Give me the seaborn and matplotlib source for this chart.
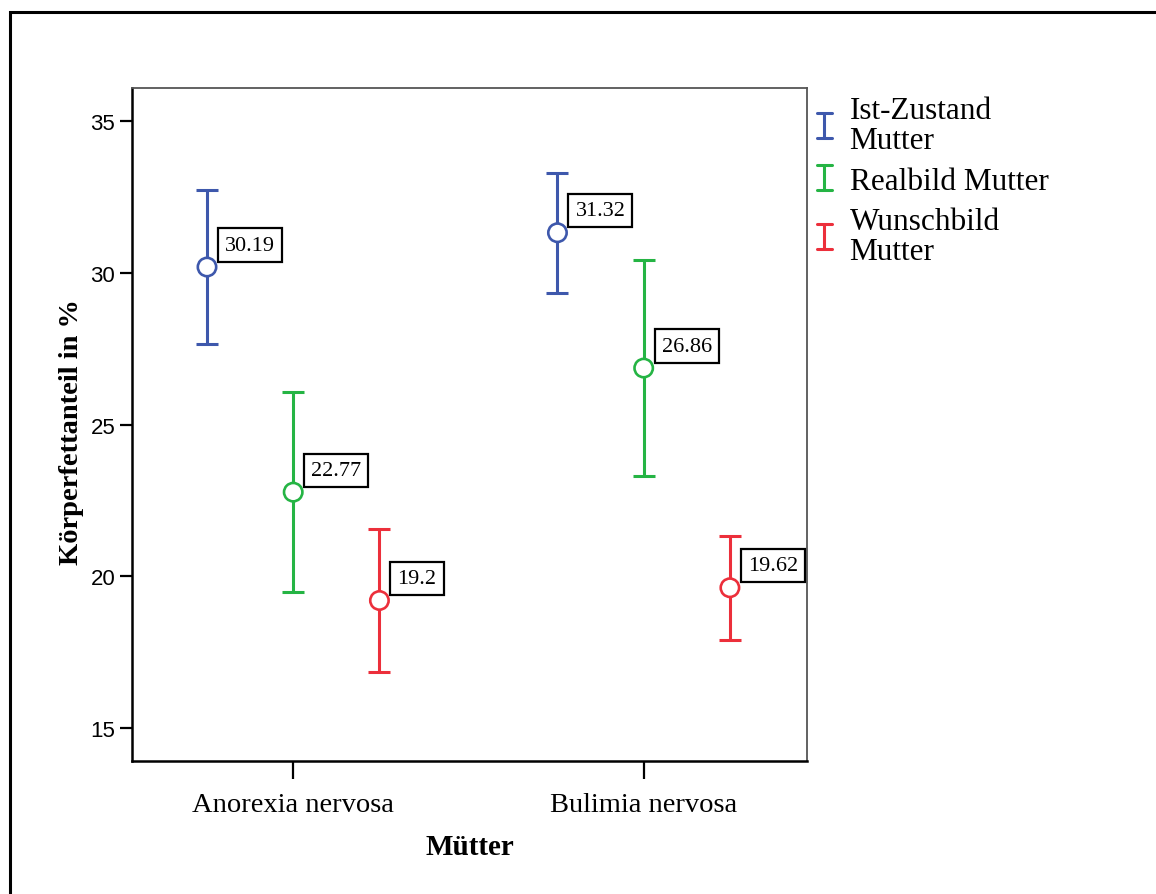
import matplotlib
matplotlib.use("Agg")
import matplotlib.pyplot as plt
from matplotlib.legend_handler import HandlerBase
from matplotlib.lines import Line2D
from matplotlib.patches import Rectangle
import pandas as pd
import seaborn as sns

# Group labels along the x axis and series shown in the legend
groups = ["Anorexia nervosa", "Bulimia nervosa"]
series = ["Ist-Zustand\nMutter", "Realbild Mutter", "Wunschbild\nMutter"]

# Means per series (one value per group)
ist_mean = [30.19, 31.32]
real_mean = [22.77, 26.86]
wunsch_mean = [19.2, 19.62]

# Error bar half-widths per series
ist_err = [2.55, 1.98]
real_err = [3.29, 3.55]
wunsch_err = [2.37, 1.72]

yticks = [15, 20, 25, 30, 35]

colors = ["#3e58ac", "#25b444", "#ec2f3b"]

sns.set_style("ticks")
plt.rcParams.update({
    "text.color": "black",
    "axes.labelcolor": "black",
    "xtick.color": "black",
    "ytick.color": "black",
})

rows = []
for s, means, errs in zip(series, [ist_mean, real_mean, wunsch_mean],
                          [ist_err, real_err, wunsch_err]):
    for g, m, e in zip(groups, means, errs):
        rows.append({"group": g, "series": s, "mean": m, "err": e})
df = pd.DataFrame(rows)

offsets = {s: o for s, o in zip(series, [-0.246, 0.0, 0.246])}
df["xpos"] = df["group"].map({g: i for i, g in enumerate(groups)}) + df["series"].map(offsets)

fig = plt.figure(figsize=(11.56, 8.95), dpi=100)
ax = fig.add_axes([132 / 1156, 1 - 762 / 895, (807 - 132) / 1156, (762 - 89) / 895])

# Error bars
for s, c in zip(series, colors):
    sub = df[df["series"] == s]
    ax.errorbar(sub["xpos"], sub["mean"], yerr=sub["err"], fmt="none",
                ecolor=c, elinewidth=2.2, capsize=8, capthick=2.2, zorder=2)

# Mean markers (open circles)
sns.scatterplot(data=df, x="xpos", y="mean", hue="series", palette=colors,
                marker="o", s=175, linewidth=1.9, legend=False, ax=ax, zorder=3)
pts = ax.collections[-1]
pts.set_edgecolors(pts.get_facecolors())
pts.set_facecolors("white")

# Value boxes
for _, r in df.iterrows():
    ax.annotate(f"{r['mean']:g}", xy=(r["xpos"], r["mean"]), xytext=(18, 22),
                textcoords="offset pixels", ha="left", va="center",
                fontsize=16, family="Liberation Serif",
                bbox=dict(boxstyle="square,pad=0.32", fc="white", ec="black", lw=1.6),
                zorder=4)

ax.set_xlim(-0.46, 1.466)
ax.set_ylim(13.91, 36.09)
ax.set_xticks(range(len(groups)))
ax.set_xticklabels(groups, family="Liberation Serif", fontsize=20.5)
ax.set_yticks(yticks)
ax.set_yticklabels([str(t) for t in yticks], family="Liberation Sans", fontsize=16)
ax.tick_params(axis="y", length=9, width=1.6, pad=3)
ax.tick_params(axis="x", length=13, width=1.6, pad=9)

ax.set_xlabel("Mütter", family="Liberation Serif", fontweight="bold", fontsize=21, labelpad=12)
ax.set_ylabel("Körperfettanteil in %", family="Liberation Serif", fontweight="bold",
              fontsize=20.5)
ax.yaxis.set_label_coords(-0.0716, 0.49)

for side in ["left", "bottom"]:
    ax.spines[side].set_color("black")
    ax.spines[side].set_linewidth(1.8)
for side in ["top", "right"]:
    ax.spines[side].set_color("#555555")
    ax.spines[side].set_linewidth(1.3)
    ax.spines[side].set_visible(True)


class ErrorIconHandler(HandlerBase):
    def create_artists(self, legend, orig_handle, xdescent, ydescent,
                       width, height, fontsize, trans):
        c = orig_handle.get_color()
        cx = width / 2 - xdescent
        cy = height / 2 - ydescent
        h = 9.0
        w = 5.5
        lines = [
            Line2D([cx, cx], [cy - h, cy + h], color=c, lw=2.2),
            Line2D([cx - w, cx + w], [cy + h, cy + h], color=c, lw=2.2),
            Line2D([cx - w, cx + w], [cy - h, cy - h], color=c, lw=2.2),
        ]
        for ln in lines:
            ln.set_transform(trans)
        return lines


handles = [Line2D([], [], color=c) for c in colors]
leg = fig.legend(handles, series, loc="upper left",
                 bbox_to_anchor=(813 / 1156, 1 - 97 / 895),
                 bbox_transform=fig.transFigure, frameon=False,
                 prop={"family": "Liberation Serif", "size": 22.5},
                 handler_map={Line2D: ErrorIconHandler()},
                 handlelength=0.72, handletextpad=0.45, labelspacing=0.36,
                 borderpad=0, borderaxespad=0)
for t in leg.get_texts():
    t.set_linespacing(1.06)

# Outer frame around the figure
fig.patches.append(Rectangle((10 / 1156, -0.05), 1.2, 1 - 13 / 895 + 0.05,
                             transform=fig.transFigure, fill=False,
                             ec="black", lw=2.2, zorder=0))

fig.savefig("out.png", dpi=100, facecolor="white")
